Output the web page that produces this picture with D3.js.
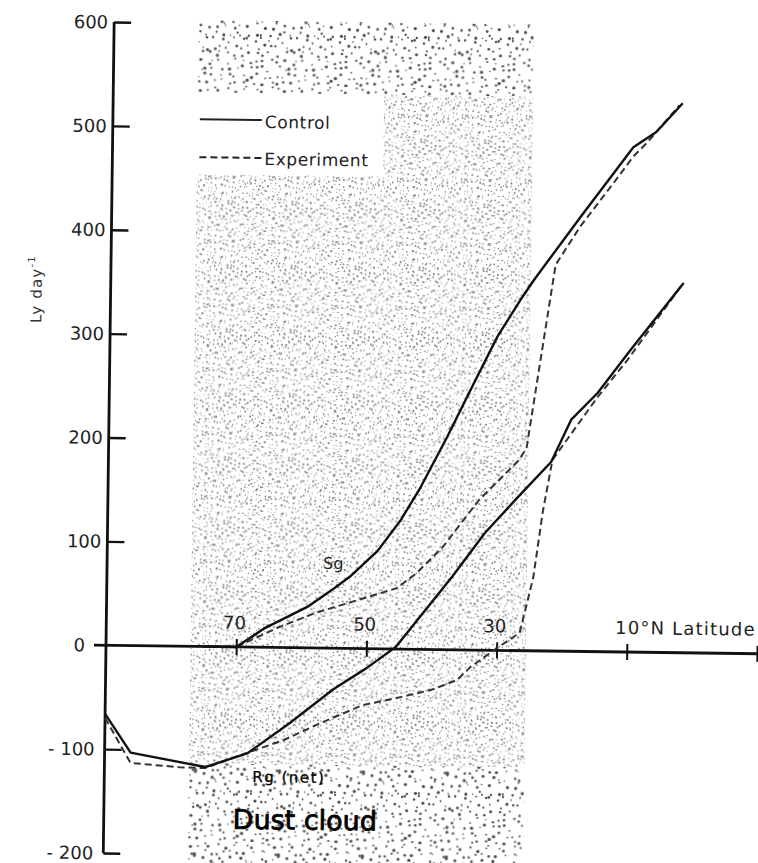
<!DOCTYPE html>
<html><head><meta charset="utf-8">
<script src="https://cdn.jsdelivr.net/npm/d3@7"></script>
<style>body{margin:0;background:#fff}svg{display:block}</style>
</head><body>
<svg id="c" width="758" height="863"></svg>
<script>
// ---- data (latitude °N, Ly day^-1) ----
const sgControl = [[75,0],[70,0],[65.5,19],[59,40],[55,58],[52.5,70],[48.5,94],[45,124],[42,156],[38,205],[34,257],[30.5,302],[27,338],[25,357],[18,418],[10,486],[6.5,501],[2.5,529]];
const sgExperiment = [[75,0],[70,0],[63.5,19.5],[58,33.5],[51.5,46.5],[45.5,58.5],[42.5,73],[38.5,98.5],[33,144.5],[27,183],[25.8,195],[21.7,372],[18,409],[13,451],[10,477],[8,490],[3,527]];
const rgControl = [[90,-66],[86,-103],[74.5,-116],[68,-102],[61.5,-72],[55,-39.5],[50,-19],[45.5,2],[37,70],[32,113],[27,148],[22,182],[19,223],[15,249],[10,291],[2,356]];
const rgExperiment = [[90,-70],[86,-113],[78.5,-116.5],[74.5,-117],[69.5,-105],[62.5,-89],[57,-72.5],[50.5,-54.5],[45.5,-47.5],[40,-39],[36,-29],[34,-16.5],[30,2],[26.5,17],[25.3,49],[24.5,71],[23.2,133],[21.8,184],[15,245],[10.5,281],[2.5,352]];
const xTickLats = [70, 50, 30, 10, -10];
const xTickLabels = ["70", "50", "30", "10°N Latitude"];
const yTickValues = [600, 500, 400, 300, 200, 100, 0, -100, -200];
const yTickLabels = ["600", "500", "400", "300", "200", "100", "0", "- 100", "- 200"];
const legendItems = ["Control", "Experiment"];
const dustLat = [77, 25.5];

// ---- layout ----
const FONT = "'DejaVu Sans', sans-serif";
const x = d3.scaleLinear().domain([90, -10]).range([106, 757]);
const y = d3.scaleLinear().domain([-200, 600]).range([853, 22]);
const svg = d3.select('#c');
const defs = svg.append('defs');

// decorative stipple texture (deterministic hash jitter)
function hash(i, k, s) { const v = Math.sin(i * 12.9898 + k * 78.233 + s * 37.719) * 43758.5453; return v - Math.floor(v); }
function makePattern(id, size, step, rBase, color, seed, jit) {
  const p = defs.append('pattern').attr('id', id).attr('patternUnits', 'userSpaceOnUse')
    .attr('width', size).attr('height', size);
  const n = size / step;
  for (let i = 0; i < n; i++) for (let k = 0; k < n; k++) {
    const cx = i * step + step / 2 + (hash(i, k, seed) - 0.5) * step * jit;
    const cy = k * step + step / 2 + (hash(k, i, seed + 1) - 0.5) * step * jit;
    const r = rBase * (0.6 + hash(i, k, seed + 2) * 0.8);
    p.append('circle').attr('cx', cx).attr('cy', cy).attr('r', r).attr('fill', color);
  }
}
makePattern('fine', 64, 4, 0.8, '#808080', 1, 0.9);
makePattern('coarse', 84, 7, 1.2, '#505050', 7, 0.9);

const g = svg.append('g').attr('transform', 'rotate(0.75,107,645)');

// dust cloud stipple
const dx0 = x(dustLat[0]), dx1 = x(dustLat[1]);
const yTopC = 19, yTopEnd = 91, legR = 377, legB = 173, yFineEnd = 762, yBot = 880;
g.append('rect').attr('x', dx0).attr('y', yTopC).attr('width', dx1 - dx0).attr('height', yTopEnd - yTopC).attr('fill', 'url(#coarse)');
g.append('rect').attr('x', legR).attr('y', yTopEnd).attr('width', dx1 - legR).attr('height', legB - yTopEnd).attr('fill', 'url(#fine)');
g.append('rect').attr('x', dx0).attr('y', legB).attr('width', dx1 - dx0).attr('height', yFineEnd - legB).attr('fill', 'url(#fine)');
g.append('rect').attr('x', dx0).attr('y', yFineEnd).attr('width', dx1 - dx0).attr('height', yBot - yFineEnd).attr('fill', 'url(#coarse)');

// y axis
const ax = x(90);
g.append('line').attr('x1', ax).attr('x2', ax).attr('y1', y(600)).attr('y2', y(-200))
  .attr('stroke', '#111').attr('stroke-width', 2.8);
const yAx = g.append('g').attr('transform', `translate(${ax},0)`)
  .call(d3.axisRight(y).tickValues(yTickValues.filter(v => v !== 0)).tickSize(17).tickFormat(''));
yAx.select('.domain').remove();
yAx.selectAll('line').attr('stroke', '#111').attr('stroke-width', 2.4);
yTickValues.forEach((v, i) => {
  const xr = v > 0 ? ax - 6 : (v === 0 ? ax - 21 : ax - 10);
  g.append('text').attr('x', xr).attr('y', y(v)).attr('dy', '0.36em').attr('text-anchor', 'end')
    .attr('font-family', FONT).attr('font-size', 18).attr('fill', '#222').text(yTickLabels[i]);
});
// y title
const yt = g.append('text').attr('transform', 'translate(37,290) rotate(-90)').attr('text-anchor', 'middle')
  .attr('font-family', FONT).attr('font-size', 15).attr('letter-spacing', 1.2).attr('fill', '#333');
yt.append('tspan').text('Ly day');
yt.append('tspan').attr('dy', -7).attr('font-size', 10).text('-1');

// x axis
const y0 = y(0);
g.append('line').attr('x1', ax - 12).attr('x2', 770).attr('y1', y0).attr('y2', y0)
  .attr('stroke', '#111').attr('stroke-width', 2.8);
const xAx = g.append('g').attr('transform', `translate(0,${y0 - 8})`)
  .call(d3.axisBottom(x).tickValues(xTickLats).tickSize(16).tickFormat(''));
xAx.select('.domain').remove();
xAx.selectAll('line').attr('stroke', '#111').attr('stroke-width', 2);
xTickLabels.forEach((t, i) => {
  const last = i === xTickLabels.length - 1;
  g.append('text').attr('x', last ? x(xTickLats[i]) - 12 : x(xTickLats[i]) - 2)
    .attr('y', y0 - 18).attr('text-anchor', last ? 'start' : 'middle')
    .attr('font-family', FONT).attr('font-size', 18).attr('letter-spacing', last ? 1.2 : 0)
    .attr('fill', '#222').text(t);
});

// curves
const line = d3.line().x(d => x(d[0])).y(d => y(d[1]));
const series = [
  { d: sgExperiment, dash: '7,4', w: 2, c: '#333' },
  { d: rgExperiment, dash: '7,4', w: 2, c: '#333' },
  { d: sgControl, dash: null, w: 2.4, c: '#111' },
  { d: rgControl, dash: null, w: 2.4, c: '#111' }
];
series.forEach(s => {
  g.append('path').attr('d', line(s.d)).attr('fill', 'none').attr('stroke', s.c)
    .attr('stroke-width', s.w).attr('stroke-dasharray', s.dash).attr('stroke-linejoin', 'round');
});

// legend
[[118, 126, null], [156, 163, '7,4']].forEach((r, i) => {
  g.append('line').attr('x1', 193).attr('x2', 255).attr('y1', r[0]).attr('y2', r[0])
    .attr('stroke', '#222').attr('stroke-width', 2).attr('stroke-dasharray', r[2]);
  g.append('text').attr('x', 258).attr('y', r[1]).attr('font-family', FONT).attr('font-size', 17)
    .attr('letter-spacing', 0.6).attr('fill', '#222').text(legendItems[i]);
});

// annotations
g.append('text').attr('x', 322).attr('y', 566).attr('font-family', FONT).attr('font-size', 16).attr('fill', '#222').text('Sg');
g.append('text').attr('x', 254).attr('y', 780).attr('font-family', FONT).attr('font-size', 15)
  .attr('letter-spacing', 1.5).attr('fill', '#000').attr('stroke', '#000').attr('stroke-width', 0.3).text('Rg (net)');
g.append('text').attr('x', 235).attr('y', 827).attr('font-family', FONT).attr('font-size', 27)
  .attr('fill', '#000').attr('stroke', '#000').attr('stroke-width', 0.8).text('Dust cloud');
</script>
</body></html>
